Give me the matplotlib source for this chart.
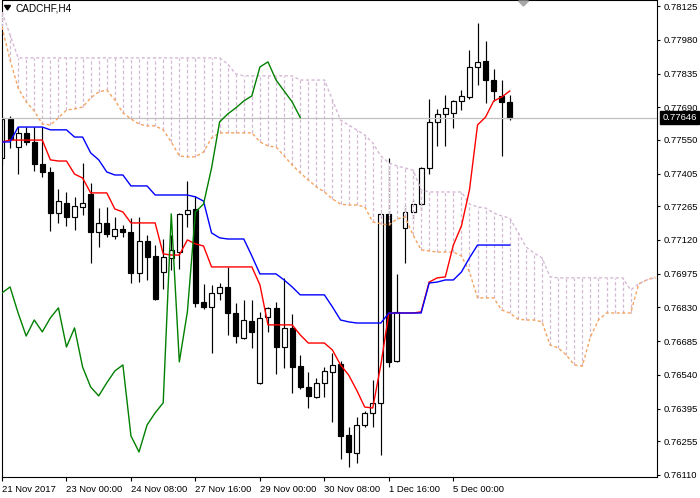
import matplotlib
matplotlib.use('Agg')
import matplotlib.pyplot as plt
from matplotlib.patches import Polygon
from matplotlib.transforms import blended_transform_factory
import numpy as np

plt.rcParams['font.family'] = ['Liberation Sans', 'DejaVu Sans']

symbol = 'CADCHF,H4'
last_price = 0.77646

# H4 bars from 21 Nov 2017 16:00 onwards
opens = [0.77472, 0.77640, 0.77519, 0.77580, 0.77541, 0.77446, 0.77412, 0.77236, 0.77279, 0.77219,
         0.77262, 0.77318, 0.77154, 0.77193, 0.77137, 0.77167, 0.77154, 0.76978, 0.77116, 0.77051,
         0.76982, 0.77043, 0.77068, 0.77232, 0.77253, 0.76854, 0.76832, 0.76892, 0.76918, 0.76806,
         0.76699, 0.76772, 0.76506, 0.76789, 0.76828, 0.76660, 0.76742, 0.76578, 0.76488, 0.76445,
         0.76506, 0.76553, 0.76587, 0.76282, 0.76205, 0.76325, 0.76377, 0.76420, 0.77232, 0.76600,
         0.77171, 0.77240, 0.77274, 0.77429, 0.77627, 0.77661, 0.77666, 0.77717, 0.77734, 0.77863,
         0.77889, 0.77807, 0.77739, 0.77713]
highs = [0.77653, 0.77653, 0.77605, 0.77605, 0.77605, 0.77605, 0.77434, 0.77339, 0.77326, 0.77305,
         0.77451, 0.77365, 0.77257, 0.77262, 0.77219, 0.77184, 0.77214, 0.77219, 0.77141, 0.77098,
         0.77124, 0.77141, 0.77236, 0.77373, 0.77309, 0.76931, 0.76927, 0.76935, 0.77004, 0.76849,
         0.76862, 0.76862, 0.76811, 0.76832, 0.76854, 0.76957, 0.76802, 0.76626, 0.76553, 0.76527,
         0.76574, 0.76634, 0.76600, 0.76316, 0.76359, 0.76385, 0.76518, 0.77236, 0.77472, 0.76974,
         0.77270, 0.77292, 0.77434, 0.77726, 0.77683, 0.77743, 0.77721, 0.77764, 0.77936, 0.78052,
         0.77975, 0.77855, 0.77807, 0.77743]
lows = [0.77442, 0.77515, 0.77403, 0.77528, 0.77416, 0.77391, 0.77159, 0.77193, 0.77180, 0.77163,
        0.77227, 0.77021, 0.77090, 0.77133, 0.77124, 0.77133, 0.76935, 0.76939, 0.76948, 0.76862,
        0.76909, 0.76991, 0.76995, 0.77176, 0.76832, 0.76823, 0.76634, 0.76862, 0.76712, 0.76677,
        0.76695, 0.76656, 0.76501, 0.76725, 0.76544, 0.76570, 0.76462, 0.76480, 0.76398, 0.76441,
        0.76445, 0.76338, 0.76179, 0.76145, 0.76162, 0.76316, 0.76316, 0.76196, 0.76574, 0.76596,
        0.77021, 0.77206, 0.77249, 0.77403, 0.77524, 0.77524, 0.77601, 0.77678, 0.77726, 0.77786,
        0.77709, 0.77717, 0.77481, 0.77635]
closes = [0.77640, 0.77554, 0.77580, 0.77541, 0.77446, 0.77412, 0.77236, 0.77287, 0.77219, 0.77266,
          0.77279, 0.77154, 0.77193, 0.77146, 0.77167, 0.77154, 0.76978, 0.77116, 0.77047, 0.76866,
          0.77047, 0.77077, 0.77232, 0.77249, 0.76849, 0.76832, 0.76892, 0.76918, 0.76806, 0.76707,
          0.76776, 0.76725, 0.76785, 0.76828, 0.76660, 0.76742, 0.76574, 0.76488, 0.76450, 0.76506,
          0.76557, 0.76583, 0.76278, 0.76209, 0.76325, 0.76377, 0.76420, 0.77232, 0.76596, 0.76811,
          0.77240, 0.77274, 0.77429, 0.77627, 0.77661, 0.77687, 0.77717, 0.77739, 0.77863, 0.77885,
          0.77807, 0.77760, 0.77713, 0.77646]

tenkan = [0.77541, 0.77549, 0.77549, 0.77549, 0.77549, 0.77549, 0.77464, 0.77459, 0.77459, 0.77403,
          0.77386, 0.77322, 0.77322, 0.77322, 0.77253, 0.77240, 0.77193, 0.77193, 0.77193, 0.77193,
          0.77060, 0.77055, 0.77055, 0.77120, 0.77103, 0.77094, 0.77004, 0.77004, 0.77004, 0.77004,
          0.77004, 0.77004, 0.76927, 0.76755, 0.76755, 0.76755, 0.76755, 0.76712, 0.76677, 0.76677,
          0.76677, 0.76647, 0.76583, 0.76540, 0.76475, 0.76402, 0.76398, 0.76583, 0.76806, 0.76806,
          0.76806, 0.76806, 0.76811, 0.76939, 0.76957, 0.76961, 0.77098, 0.77180, 0.77335, 0.77614,
          0.77648, 0.77717, 0.77734, 0.77760]
kijun = [0.77541, 0.77541, 0.77605, 0.77605, 0.77605, 0.77605, 0.77593, 0.77593, 0.77593, 0.77562,
         0.77562, 0.77494, 0.77464, 0.77412, 0.77399, 0.77399, 0.77352, 0.77352, 0.77352, 0.77313,
         0.77313, 0.77313, 0.77313, 0.77313, 0.77305, 0.77287, 0.77150, 0.77129, 0.77124, 0.77124,
         0.77124, 0.77051, 0.76974, 0.76974, 0.76974, 0.76948, 0.76918, 0.76884, 0.76884, 0.76884,
         0.76884, 0.76832, 0.76776, 0.76768, 0.76763, 0.76763, 0.76763, 0.76763, 0.76806, 0.76806,
         0.76806, 0.76806, 0.76806, 0.76935, 0.76939, 0.76948, 0.76948, 0.76982, 0.77043, 0.77098,
         0.77098, 0.77098, 0.77098, 0.77098]
span_a = [0.78035, 0.77893, 0.77773, 0.77713, 0.77674, 0.77618, 0.77614, 0.77644, 0.77678, 0.77683,
          0.77691, 0.77730, 0.77756, 0.77764, 0.77721, 0.77666, 0.77640, 0.77618, 0.77610, 0.77610,
          0.77593, 0.77541, 0.77481, 0.77477, 0.77477, 0.77498, 0.77558, 0.77580, 0.77580, 0.77580,
          0.77580, 0.77580, 0.77541, 0.77524, 0.77519, 0.77481, 0.77442, 0.77408, 0.77378, 0.77348,
          0.77326, 0.77296, 0.77274, 0.77270, 0.77270, 0.77262, 0.77197, 0.77189, 0.77184, 0.77210,
          0.77219, 0.77141, 0.77077, 0.77073, 0.77068, 0.77068, 0.77068, 0.77051, 0.76982, 0.76871,
          0.76871, 0.76871, 0.76819, 0.76806, 0.76780, 0.76776, 0.76776, 0.76768, 0.76669, 0.76656,
          0.76626, 0.76583, 0.76578, 0.76703, 0.76776, 0.76806, 0.76806, 0.76806, 0.76806, 0.76931,
          0.76948, 0.76961]
span_b = [0.78099, 0.78001, 0.77902, 0.77902, 0.77902, 0.77902, 0.77902, 0.77902, 0.77902, 0.77902,
          0.77902, 0.77902, 0.77902, 0.77902, 0.77902, 0.77902, 0.77902, 0.77902, 0.77902, 0.77902,
          0.77902, 0.77902, 0.77902, 0.77902, 0.77902, 0.77902, 0.77902, 0.77902, 0.77876, 0.77833,
          0.77825, 0.77825, 0.77825, 0.77825, 0.77825, 0.77825, 0.77825, 0.77807, 0.77807, 0.77807,
          0.77807, 0.77721, 0.77635, 0.77614, 0.77593, 0.77571, 0.77537, 0.77481, 0.77451, 0.77438,
          0.77429, 0.77420, 0.77335, 0.77326, 0.77326, 0.77326, 0.77326, 0.77326, 0.77274, 0.77262,
          0.77257, 0.77236, 0.77223, 0.77214, 0.77154, 0.77090, 0.77064, 0.77043, 0.76961, 0.76957,
          0.76957, 0.76957, 0.76957, 0.76957, 0.76957, 0.76957, 0.76957, 0.76957, 0.76905, 0.76931,
          0.76948, 0.76957]
chikou_shift = 26

x_labels = ['21 Nov 2017', '23 Nov 00:00', '24 Nov 08:00', '27 Nov 16:00',
            '29 Nov 00:00', '30 Nov 08:00', '1 Dec 16:00', '5 Dec 00:00']
x_label_bars = [0, 8, 16, 24, 32, 40, 48, 56]
price_ticks = [0.78125, 0.77980, 0.77835, 0.77690, 0.77550, 0.77405, 0.77265, 0.77120,
               0.76975, 0.76830, 0.76685, 0.76540, 0.76395, 0.76255, 0.76110]

W, H = 700, 498
fig = plt.figure(figsize=(W / 100, H / 100), dpi=100)
fig.patch.set_facecolor('white')
ax = fig.add_axes([1.5 / W, 21 / H, 655 / W, 476.5 / H])
ax.set_facecolor('white')

n = len(opens)
idx = np.arange(n)
o = np.array(opens); hi = np.array(highs); lo = np.array(lows); c = np.array(closes)

# candles
ax.vlines(idx, lo, hi, color='black', lw=0.85, zorder=2)
bottoms = np.minimum(o, c)
heights = np.maximum(np.abs(c - o), 0.00003)
fills = ['white' if cc >= oo else 'black' for oo, cc in zip(o, c)]
ax.bar(idx, heights, bottom=bottoms, width=0.62, color=fills, edgecolor='black',
       linewidth=0.85, zorder=2.1)

# cloud hatch
na = len(span_a)
for j in range(na):
    col = '#D4B8D4' if span_b[j] >= span_a[j] else '#F4A460'
    ax.plot([j, j], [span_a[j], span_b[j]], color=col, lw=0.9,
            ls=(0, (2.6, 1.9)), gapcolor='white', zorder=3, solid_capstyle='butt',
            dash_capstyle='butt')

ax.axhline(last_price, color='#C0C0C0', lw=0.9, zorder=3.5)

ax.plot(np.arange(na), span_a, color='#F4A460', lw=1.0, ls=(0, (2.2, 1.8)), zorder=4)
ax.plot(np.arange(na), span_b, color='#D4B8D4', lw=1.0, ls=(0, (2.2, 1.8)), zorder=4)

ax.plot(idx, tenkan, color='#FF0000', lw=1.0, zorder=5)
ax.plot(idx, kijun, color='#0000FF', lw=1.0, zorder=5)
ax.plot(idx[chikou_shift:] - chikou_shift, c[chikou_shift:], color='#008000', lw=1.0, zorder=5)

ax.set_xlim((1.5 - 2) / 8.06, (656.5 - 2) / 8.06)
ax.set_ylim(0.761014, 0.781487)

for s in ax.spines.values():
    s.set_color('black')
    s.set_linewidth(0.8)

ax.yaxis.tick_right()
ax.set_yticks(price_ticks)
ax.set_yticklabels([f'{p:.5f}' for p in price_ticks])
ax.tick_params(axis='y', direction='out', length=2.5, width=0.8, pad=2.5,
               labelsize=6.8, colors='black')
ax.set_xticks(x_label_bars)
ax.set_xticklabels(x_labels)
ax.tick_params(axis='x', direction='out', length=3, width=0.8, pad=2.5,
               labelsize=6.8, colors='black')
for lab in ax.get_xticklabels():
    lab.set_horizontalalignment('left')

# current price box
tr = blended_transform_factory(ax.transAxes, ax.transData)
ax.text(1.0 + 6 / 655, last_price, f'{last_price:.5f}', transform=tr, color='white',
        fontsize=6.8, va='center', ha='left', clip_on=False, zorder=10,
        bbox=dict(boxstyle='square,pad=0.25', fc='black', ec='black'))

# symbol label
fig.text(16 / W, 1 - 8.5 / H, symbol, fontsize=7.2, color='black', va='center', ha='left')
tri = Polygon([(4.5 / W, 1 - 5.5 / H), (10.5 / W, 1 - 5.5 / H), (7.5 / W, 1 - 10 / H)],
              closed=True, transform=fig.transFigure, color='black')
fig.add_artist(tri)
tri2 = Polygon([(518.5 / W, 1 - 1 / H), (528.5 / W, 1 - 1 / H), (523.5 / W, 1 - 6 / H)],
               closed=True, transform=fig.transFigure, color='#A8A8A8', zorder=20)
fig.add_artist(tri2)

fig.savefig('out.png', dpi=100, facecolor='white')
